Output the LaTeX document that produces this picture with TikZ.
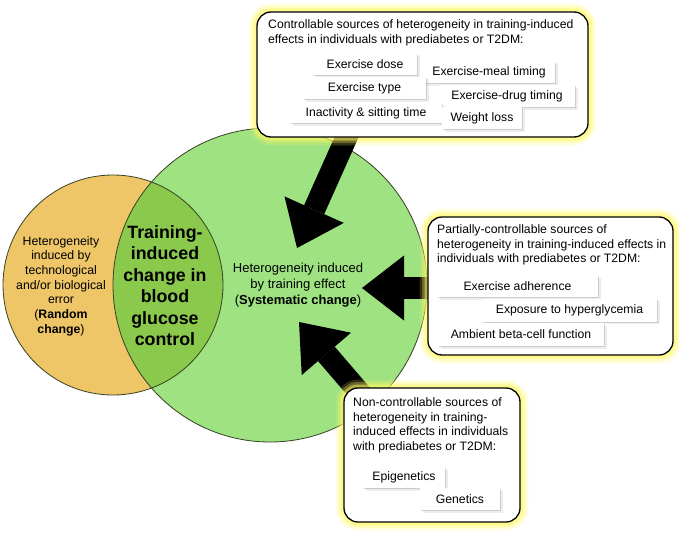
\documentclass[tikz,border=0pt]{standalone}
\usepackage{fontspec}
\setmainfont{Liberation Sans}
\usetikzlibrary{arrows.meta,shadows}
\definecolor{orangefill}{RGB}{238,198,104}
\definecolor{greenfill}{RGB}{158,226,130}
\definecolor{lensfill}{RGB}{138,201,76}
\definecolor{circline}{RGB}{55,65,35}
\definecolor{glowyellow}{RGB}{255,248,100}
\begin{document}
\begin{tikzpicture}[x=1pt,y=-1pt,
  circ/.style={draw=circline, line width=0.8pt},
  bigarrow/.style={line width=22pt, draw=black, -{Triangle[length=42pt,width=65pt,line width=0pt]}},
  glowbox/.style={rounded corners=14pt, draw=black, line width=1.3pt, fill=white,
    preaction={draw=glowyellow, line width=17pt, opacity=0.18},
    preaction={draw=glowyellow, line width=12pt, opacity=0.3},
    preaction={draw=glowyellow, line width=7pt, opacity=0.5}},
  boxtext/.style={inner sep=0pt, align=left, font=\fontsize{12.2}{14.5}\selectfont},
  item/.style={fill=white, inner sep=0pt, font=\fontsize{12.2}{14.5}\selectfont,
    drop shadow={shadow xshift=2.5pt, shadow yshift=-2.5pt, fill=black!20, opacity=0.35},
    drop shadow={shadow xshift=1.2pt, shadow yshift=-1.2pt, fill=black!35, opacity=0.45}},
  circtext/.style={inner sep=0pt, align=center}
]
\useasboundingbox (0,0) rectangle (680,535);
% circles
\coordinate (oc) at (113,285);
\coordinate (gc) at (270,285);
\fill[orangefill] (oc) circle[radius=110];
\fill[greenfill] (gc) circle[radius=157];
\begin{scope}
  \clip (oc) circle[radius=110];
  \fill[lensfill] (gc) circle[radius=157];
\end{scope}
\draw[circ] (oc) circle[radius=110];
\draw[circ] (gc) circle[radius=157];
% circle texts
\node[circtext, font=\fontsize{12.3}{14.7}\selectfont] (randomtxt) at (61,286)
  {Heterogeneity\\induced by\\technological\\and/or biological\\error\\(\textbf{Random}\\\textbf{change})};
\node[circtext, font=\fontsize{17.8}{21.5}\selectfont\bfseries] (lenstxt) at (165,285.5)
  {Training-\\induced\\change in\\blood\\glucose\\control};
\node[circtext, font=\fontsize{13}{16}\selectfont] (systxt) at (298,285)
  {Heterogeneity induced\\by training effect\\(\textbf{Systematic change})};
% arrow coordinates
\coordinate (a1s) at (352,125);
\coordinate (a1t) at (297,248);
\coordinate (a2s) at (445,288);
\coordinate (a2t) at (362,288);
\coordinate (a3s) at (372,407);
\coordinate (a3t) at (299,322);
\draw[bigarrow] (a1s) -- (a1t);
\draw[bigarrow] (a2s) -- (a2t);
\draw[bigarrow] (a3s) -- (a3t);
% boxes
\node[glowbox, minimum width=331pt, minimum height=125pt] (topbox) at (422.5,74.5) {};
\node[glowbox, minimum width=245pt, minimum height=138pt] (rightbox) at (550.5,286) {};
\node[glowbox, minimum width=176pt, minimum height=134pt] (botbox) at (432,455) {};
% box texts
\node[boxtext, anchor=north west] (toptxt) at (268,19.5)
  {Controllable sources of heterogeneity in training-induced\\effects in individuals with prediabetes or T2DM:};
\node[boxtext, anchor=north west] (righttxt) at (437,224.5)
  {Partially-controllable sources of\\heterogeneity in training-induced effects in\\individuals with prediabetes or T2DM:};
\node[boxtext, anchor=north west] (bottxt) at (353,397.5)
  {Non-controllable sources of\\heterogeneity in training-\\induced effects in individuals\\with prediabetes or T2DM:};
% items top
\node[item, minimum width=104pt, minimum height=21pt] (dose) at (365,64.5) {Exercise dose};
\node[item, minimum width=132pt, minimum height=21pt] (meal) at (489,72.5) {Exercise-meal timing};
\node[item, minimum width=123pt, minimum height=22pt] (type) at (364.5,88) {Exercise type};
\node[item, minimum width=136pt, minimum height=22pt] (drug) at (507,96) {Exercise-drug timing};
\node[item, minimum width=152pt, minimum height=20pt] (inact) at (366,113) {Inactivity \& sitting time};
\node[item, minimum width=80pt, minimum height=22pt] (weight) at (482,118) {Weight loss};
% items right
\node[item, minimum width=161pt, minimum height=22pt] (adher) at (517.5,286) {Exercise adherence};
\node[item, minimum width=175pt, minimum height=23pt] (expo) at (569.5,310) {Exposure to hyperglycemia};
\node[item, minimum width=166pt, minimum height=23pt] (ambient) at (521,334.5) {Ambient beta-cell function};
% items bottom
\node[item, minimum width=82pt, minimum height=21pt] (epi) at (404,477.5) {Epigenetics};
\node[item, minimum width=80pt, minimum height=22pt] (gen) at (460,499) {Genetics};
\end{tikzpicture}
\end{document}
